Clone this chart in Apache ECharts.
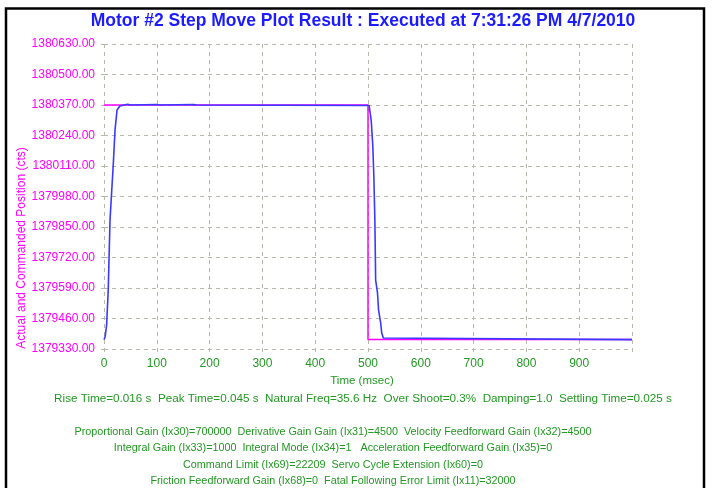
<!DOCTYPE html>
<html>
<head>
<meta charset="utf-8">
<script src="https://cdn.jsdelivr.net/npm/echarts@6/dist/echarts.min.js"></script>
<style>
  html, body { margin: 0; padding: 0; background: #ffffff; }
  #chart { width: 713px; height: 488px; }
</style>
</head>
<body>
<div id="chart"></div>
<script>
// Step move of motor #2: commanded vs. actual position over one second
const posBase = 1379330;      // bottom of the position axis (cts)
const posTop = 1380630;       // top of the position axis (cts)
const posStep = 130;          // tick spacing (cts)
const timeMax = 1000;         // msec
const timeStep = 100;

const commandTime = [0, 500, 500, 1000];
const commandPos = [1380370, 1380370, 1379370, 1379370];

const actualTime = [0, 2, 5, 8, 11.4, 17.7, 20.9, 24.7, 30, 45, 50, 100, 105, 170, 175,
  502, 506, 509, 511, 513, 514.5, 518, 520, 524, 526, 529, 532, 1000];
const actualPos = [1379370, 1379381, 1379432, 1379581, 1379880, 1380123, 1380264, 1380349, 1380366,
  1380373, 1380370, 1380372, 1380370, 1380372, 1380370,
  1380368, 1380306, 1380200, 1380072, 1379880, 1379624, 1379569, 1379496, 1379441, 1379398,
  1379377, 1379370, 1379370];

const statsLine = 'Rise Time=0.016 s  Peak Time=0.045 s  Natural Freq=35.6 Hz  Over Shoot=0.3%  Damping=1.0  Settling Time=0.025 s';
const gainLines = [
  'Proportional Gain (Ix30)=700000  Derivative Gain Gain (Ix31)=4500  Velocity Feedforward Gain (Ix32)=4500',
  'Integral Gain (Ix33)=1000  Integral Mode (Ix34)=1   Acceleration Feedforward Gain (Ix35)=0',
  'Command Limit (Ix69)=22209  Servo Cycle Extension (Ix60)=0',
  'Friction Feedforward Gain (Ix68)=0  Fatal Following Error Limit (Ix11)=32000'
];

const FONT = '"Liberation Sans", Arial, sans-serif';
const GREEN = '#229922';
const MAGENTA = '#ff00ff';
const GRID = '#b8b8ac';

// the position axis runs in counts above posBase so ticks land on round offsets
const toPair = (ts, ps) => ts.map((t, i) => [t, ps[i] - posBase]);

const chart = echarts.init(document.getElementById('chart'), null, { renderer: 'canvas' });

const gridLineStyle = { color: GRID, type: [4, 4], width: 1 };

chart.setOption({
  animation: false,
  backgroundColor: '#ffffff',
  grid: { left: 104, top: 44, right: 81, bottom: 139, containLabel: false },
  xAxis: {
    type: 'value',
    min: 0,
    max: timeMax,
    interval: timeStep,
    axisLine: { show: false },
    axisTick: { show: true, length: 3, lineStyle: { color: GRID } },
    splitLine: { show: true, lineStyle: gridLineStyle },
    axisLabel: {
      color: GREEN, fontFamily: FONT, fontSize: 12, margin: 9,
      formatter: v => (v >= timeMax ? '' : String(v))
    }
  },
  yAxis: {
    type: 'value',
    min: 0,
    max: posTop - posBase,
    interval: posStep,
    axisLine: { show: false },
    axisTick: { show: true, length: 3, lineStyle: { color: GRID } },
    splitLine: { show: true, lineStyle: gridLineStyle },
    axisLabel: {
      color: MAGENTA, fontFamily: FONT, fontSize: 12, margin: 9,
      formatter: v => (v + posBase).toFixed(2)
    }
  },
  series: [
    {
      name: 'Commanded',
      type: 'line',
      data: toPair(commandTime, commandPos),
      showSymbol: false,
      lineStyle: { color: MAGENTA, width: 1.5 },
      itemStyle: { color: MAGENTA },
      z: 2
    },
    {
      name: 'Actual',
      type: 'line',
      data: toPair(actualTime, actualPos),
      showSymbol: false,
      lineStyle: { color: '#3a3aff', width: 1.6 },
      itemStyle: { color: '#3a3aff' },
      z: 3
    }
  ],
  graphic: [
    // frame around the report
    { type: 'polyline', shape: { points: [[6, 488], [6, 8.5], [704, 8.5], [704, 488]] },
      style: { stroke: '#000000', lineWidth: 2.5, fill: null } },
    { type: 'text', x: 363, y: 21,
      style: { text: 'Motor #2 Step Move Plot Result : Executed at 7:31:26 PM 4/7/2010',
        fill: '#1c1cff', font: 'bold 17.5px ' + FONT, align: 'center', verticalAlign: 'middle' } },
    { type: 'text', x: 22, y: 248, rotation: Math.PI / 2,
      style: { text: 'Actual and Commanded Position (cts)', fill: MAGENTA,
        font: '12px ' + FONT, align: 'center', verticalAlign: 'middle' } },
    { type: 'text', x: 362, y: 381,
      style: { text: 'Time (msec)', fill: GREEN, font: '11.5px ' + FONT, align: 'center', verticalAlign: 'middle' } },
    { type: 'text', x: 363, y: 399,
      style: { text: statsLine, fill: GREEN, font: '11.7px ' + FONT, align: 'center', verticalAlign: 'middle' } },
    ...gainLines.map((line, i) => ({
      type: 'text', x: 333, y: 432 + i * 16.5,
      style: { text: line, fill: GREEN, font: '10.8px ' + FONT, align: 'center', verticalAlign: 'middle' }
    }))
  ]
});
</script>
</body>
</html>
